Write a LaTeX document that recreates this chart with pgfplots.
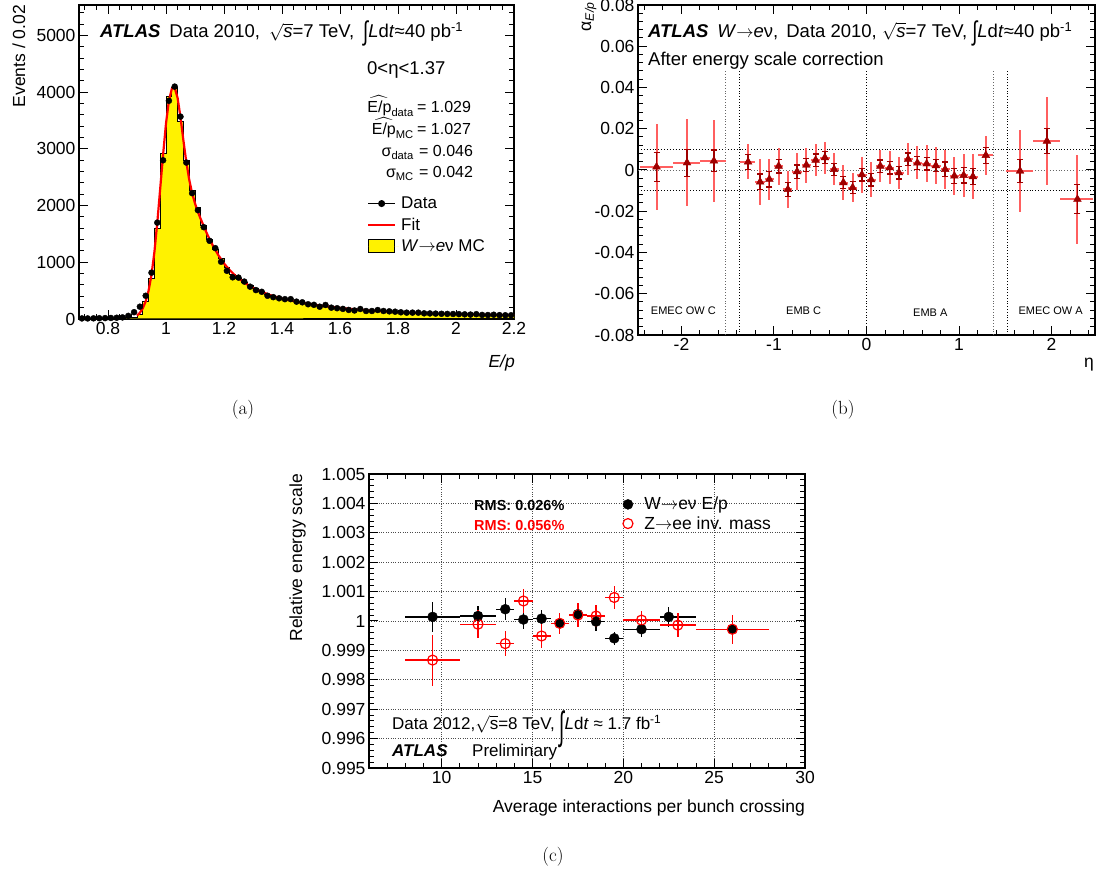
\documentclass[border=0pt]{standalone}
\usepackage{amsmath}
\usepackage{fontspec}
\newfontfamily\hv{Liberation Sans}
\usepackage{pgfplots}
\usepackage{pgfplotstable}
\pgfplotsset{compat=1.18}

\definecolor{dred}{RGB}{160,0,0}
\definecolor{lred}{RGB}{255,95,95}
\newcommand\F[1]{\hv\fontsize{#1}{#1}\selectfont}
\newcommand\Int{\raisebox{-3pt}{\scalebox{1}[1.45]{∫}}}
\newcommand\ar{$\rightarrow$}

\pgfplotsset{rootstyle/.style={
  scale only axis,
  axis line style={line width=1.3pt},
  tick align=inside,
  tick pos=both,
  xticklabel pos=left, yticklabel pos=left,
  major tick length=9pt, minor tick length=5pt,
  every tick/.style={black, line width=1pt},
  tick label style={font=\F{17.5}},
  /pgf/number format/assume math mode=true,
  /pgf/number format/1000 sep={},
  scaled ticks=false,
}}
\pgfplotsset{
  legdata/.style={legend image code/.code={\draw[##1, mark repeat=2, mark phase=2] plot coordinates {(0pt,0pt)(13.5pt,0pt)(27pt,0pt)}; \path[draw=none] (0pt,0pt) -- (31pt,0pt);}},
  legline/.style={legend image code/.code={\draw[##1] (0pt,0pt) -- (27pt,0pt); \path[draw=none] (0pt,0pt) -- (31pt,0pt);}},
  legbox/.style={legend image code/.code={\draw[##1] (0pt,-6pt) rectangle (26pt,7pt); \path[draw=none] (0pt,0pt) -- (31pt,0pt);}},
  legmark/.style={legend image code/.code={\draw[##1] plot coordinates {(5.5pt,0pt)}; \path[draw=none] (0pt,0pt) -- (20pt,0pt);}},
}

% E/p histogram: bin low edge, bin centre, data, MC
\pgfplotstableread{
lo c dat mc
0.70 0.71 10 0
0.72 0.73 10 0
0.74 0.75 12 0
0.76 0.77 14 0
0.78 0.79 16 0
0.80 0.81 18 0
0.82 0.83 22 0
0.84 0.85 28 10
0.86 0.87 55 25
0.88 0.89 120 35
0.90 0.91 217 75
0.92 0.93 410 310
0.94 0.95 817 720
0.96 0.97 1700 1600
0.98 0.99 2800 2920
1.00 1.01 3850 3930
1.02 1.03 4100 4090
1.04 1.05 3570 3480
1.06 1.07 2760 2800
1.08 1.09 2220 2270
1.10 1.11 1920 1960
1.12 1.13 1620 1650
1.14 1.15 1380 1410
1.16 1.17 1250 1230
1.18 1.19 1010 1060
1.20 1.21 850 900
1.22 1.23 735 790
1.24 1.25 730 720
1.26 1.27 660 650
1.28 1.29 570 590
1.30 1.31 510 540
1.32 1.33 480 490
1.34 1.35 410 440
1.36 1.37 385 400
1.38 1.39 365 370
1.40 1.41 350 345
1.42 1.43 350 325
1.44 1.45 306 305
1.46 1.47 294 285
1.48 1.49 260 268
1.50 1.51 250 250
1.52 1.53 217 238
1.54 1.55 247 225
1.56 1.57 200 212
1.58 1.59 190 200
1.60 1.61 178 190
1.62 1.63 160 180
1.64 1.65 150 170
1.66 1.67 176 160
1.68 1.69 141 152
1.70 1.71 141 145
1.72 1.73 158 140
1.74 1.75 141 134
1.76 1.77 135 128
1.78 1.79 129 122
1.80 1.81 118 117
1.82 1.83 112 112
1.84 1.85 112 108
1.86 1.87 112 104
1.88 1.89 100 100
1.90 1.91 98 96
1.92 1.93 95 93
1.94 1.95 92 90
1.96 1.97 90 87
1.98 1.99 88 85
2.00 2.01 86 83
2.02 2.03 82 80
2.04 2.05 78 78
2.06 2.07 85 76
2.08 2.09 72 74
2.10 2.11 70 72
2.12 2.13 75 70
2.14 2.15 68 68
2.16 2.17 66 66
2.18 2.19 66 64
2.20 2.21 nan 64
}\tabA

% alpha vs eta: x, x err minus/plus, value, stat, total
\pgfplotstableread{
x exm exp y stat tot
-2.27 0.18 0.18 0.0015 0.0070 0.0210
-1.94 0.15 0.14 0.0035 0.0065 0.0210
-1.65 0.15 0.13 0.0044 0.0053 0.0200
-1.28 0.09 0.08 0.0039 0.0037 0.0085
-1.15 0.05 0.05 -0.0058 0.0038 0.0110
-1.05 0.05 0.05 -0.0045 0.0037 0.0100
-0.95 0.05 0.05 0.0019 0.0033 0.0090
-0.85 0.05 0.05 -0.0094 0.0033 0.0088
-0.75 0.05 0.05 -0.0008 0.0032 0.0088
-0.65 0.05 0.05 0.0024 0.0030 0.0085
-0.55 0.05 0.05 0.0048 0.0030 0.0078
-0.45 0.05 0.05 0.0060 0.0028 0.0078
-0.35 0.05 0.05 0.0003 0.0030 0.0078
-0.25 0.05 0.05 -0.0061 0.0030 0.0085
-0.15 0.05 0.05 -0.0085 0.0030 0.0072
-0.05 0.05 0.05 -0.0023 0.0030 0.0087
0.05 0.05 0.05 -0.0047 0.0030 0.0085
0.15 0.05 0.05 0.0019 0.0030 0.0078
0.25 0.05 0.05 0.0011 0.0030 0.0080
0.35 0.05 0.05 -0.0013 0.0030 0.0077
0.45 0.05 0.05 0.0052 0.0030 0.0077
0.55 0.05 0.05 0.0034 0.0030 0.0080
0.65 0.05 0.05 0.0030 0.0030 0.0090
0.75 0.05 0.05 0.0021 0.0030 0.0090
0.85 0.05 0.05 0.0003 0.0035 0.0095
0.95 0.05 0.05 -0.0029 0.0035 0.0093
1.05 0.05 0.05 -0.0026 0.0037 0.0105
1.15 0.05 0.05 -0.0032 0.0038 0.0108
1.29 0.09 0.08 0.0071 0.0038 0.0095
1.66 0.15 0.14 -0.0005 0.0055 0.0200
1.95 0.15 0.14 0.0140 0.0060 0.0215
2.28 0.19 0.17 -0.0142 0.0070 0.0215
}\tabB

% energy scale vs mu
\pgfplotstableread{
x exm exp y ey
9.5 1.5 1.5 1.00014 0.00050
12.0 1.0 1.0 1.00017 0.00034
13.5 0.5 0.5 1.00040 0.00038
14.5 0.5 0.5 1.00005 0.00032
15.5 0.5 0.5 1.00008 0.00028
16.5 0.5 0.5 0.99992 0.00030
17.5 0.5 0.5 1.00023 0.00030
18.5 0.5 0.5 0.99998 0.00033
19.5 0.5 0.5 0.99941 0.00023
21.0 1.0 1.0 0.99972 0.00028
22.5 0.5 1.5 1.00014 0.00035
26.0 2.0 2.0 0.99972 0.00030
}\tabW
\pgfplotstableread{
x exm exp y ey
9.5 1.5 1.5 0.99867 0.00087
12.0 1.0 1.0 0.99989 0.00048
13.5 0.5 0.5 0.99923 0.00043
14.5 0.5 0.5 1.00068 0.00040
15.5 0.5 0.5 0.99949 0.00040
16.5 0.5 0.5 0.99992 0.00035
17.5 0.5 0.5 1.00020 0.00042
18.5 0.5 0.5 1.00017 0.00038
19.5 0.5 0.5 1.00080 0.00039
21.0 1.0 1.0 1.00003 0.00031
23.0 1.0 1.0 0.99986 0.00042
26.0 2.0 2.0 0.99972 0.00050
}\tabZ

\begin{document}
\begin{tikzpicture}
\useasboundingbox (0pt,0pt) rectangle (1096pt,874pt);

% ---------------- (a)
\begin{axis}[rootstyle, at={(79pt,555pt)}, anchor=south west,
  width=435pt, height=314pt,
  xmin=0.7, xmax=2.2, ymin=0, ymax=5540,
  xtick={0.8,1,1.2,1.4,1.6,1.8,2,2.2},
  xticklabels={0.8,1,1.2,1.4,1.6,1.8,2,2.2},
  minor xtick={0.72,0.76,...,2.2},
  ytick={0,1000,2000,3000,4000,5000},
  yticklabels={0,1000,2000,3000,4000,5000},
  minor ytick={200,400,...,5400},
  legend cell align=left,
  legend style={draw=none, fill=none, font=\F{17}, at={(0.655,0.402)}, anchor=north west, row sep=4pt},
]
\addplot[forget plot, const plot mark left, fill=yellow, draw=black, line width=1pt]
  table[x=lo, y=mc]{\tabA} \closedcycle;
\addplot[forget plot, red, line width=2.2pt] coordinates {
(0.90,60)(0.91,110)(0.92,190)(0.93,310)(0.94,500)(0.95,780)(0.96,1180)(0.97,1700)
(0.98,2300)(0.99,2900)(1.00,3450)(1.01,3850)(1.02,4060)(1.03,4080)(1.04,3900)
(1.05,3560)(1.06,3150)(1.07,2770)(1.08,2460)(1.09,2220)(1.10,2040)(1.11,1890)
(1.12,1760)(1.13,1640)(1.14,1520)(1.15,1410)(1.16,1310)(1.18,1130)(1.20,980)
(1.22,860)(1.24,760)(1.26,680)(1.28,610)(1.30,550)(1.33,480)(1.36,420)(1.40,360)
(1.45,305)(1.50,260)(1.55,225)(1.60,195)(1.70,150)(1.80,120)(1.90,100)(2.00,86)
(2.10,75)(2.20,66)};
\addplot[forget plot, only marks, mark=*, mark size=3pt, black] table[x=c, y=dat]{\tabA};
\addlegendimage{black, line width=1pt, mark=*, mark size=3pt, legdata}
\addlegendentry{Data}
\addlegendimage{red, line width=2pt, legline}
\addlegendentry{Fit}
\addlegendimage{fill=yellow, draw=black, line width=1pt, legbox}
\addlegendentry{\textit{W}\ar\textit{e}ν MC}
\end{axis}

\node[anchor=base west, inner sep=0pt] at (100pt,836pt) {\F{18.5}\textbf{\textit{ATLAS}}\hspace{9pt}Data 2010,\hspace{9pt}$\sqrt{\text{\textit{s}}}$=7 TeV,\hspace{9pt}\Int\textit{L}d\textit{t}≈40 pb\textsuperscript{-1}};
\node[anchor=base west, inner sep=0pt] at (367pt,799pt) {\F{18.5}0<η<1.37};
\node[anchor=base east, inner sep=0pt] at (414pt,761pt) {\F{16}$\widehat{\text{E/p}}_{\text{data}}$};
\node[anchor=base west, inner sep=0pt] at (417pt,761pt) {\F{16}= 1.029};
\node[anchor=base east, inner sep=0pt] at (414pt,739pt) {\F{16}$\widehat{\text{E/p}}_{\text{MC}}$};
\node[anchor=base west, inner sep=0pt] at (417pt,739pt) {\F{16}= 1.027};
\node[anchor=base east, inner sep=0pt] at (414pt,717pt) {\F{16}$\text{σ}_{\text{data}}$};
\node[anchor=base west, inner sep=0pt] at (419pt,717pt) {\F{16}= 0.046};
\node[anchor=base east, inner sep=0pt] at (414pt,696pt) {\F{16}$\text{σ}_{\text{MC}}$\hspace{4pt}};
\node[anchor=base west, inner sep=0pt] at (419pt,696pt) {\F{16}= 0.042};
\node[rotate=90, anchor=base east, inner sep=0pt] at (25pt,869pt) {\F{17.5}Events / 0.02};
\node[anchor=base east, inner sep=0pt] at (515pt,506pt) {\F{17.5}\textit{E/p}};
\node at (243pt,464pt) {\fontsize{19}{22}\selectfont (a)};

% ---------------- (b)
\begin{axis}[rootstyle, at={(638pt,539pt)}, anchor=south west,
  width=457pt, height=330pt,
  xmin=-2.47, xmax=2.47, ymin=-0.08, ymax=0.08,
  xtick={-2,-1,0,1,2}, xticklabels={-2,-1,0,1,2},
  minor xtick={-2.4,-2.2,...,2.4},
  ytick={-0.08,-0.06,-0.04,-0.02,0,0.02,0.04,0.06,0.08},
  yticklabels={-0.08,-0.06,-0.04,-0.02,0,0.02,0.04,0.06,0.08},
  minor ytick={-0.076,-0.072,...,0.08},
]
\addplot[black, dotted, line width=0.9pt] coordinates {(-2.47,0.01)(2.47,0.01)};
\addplot[black!60, dotted, line width=0.9pt] coordinates {(-2.47,0)(2.47,0)};
\addplot[black, dotted, line width=0.9pt] coordinates {(-2.47,-0.01)(2.47,-0.01)};
\addplot[black!60, dotted, line width=0.8pt] coordinates {(-1.52,-0.08)(-1.52,0.048)};
\addplot[black, dotted, line width=0.8pt] coordinates {(-1.37,-0.08)(-1.37,0.048)};
\addplot[black, dotted, line width=0.8pt] coordinates {(0,-0.08)(0,0.048)};
\addplot[black!60, dotted, line width=0.8pt] coordinates {(1.37,-0.08)(1.37,0.048)};
\addplot[black, dotted, line width=0.8pt] coordinates {(1.52,-0.08)(1.52,0.048)};
\addplot[only marks, mark=none,
  error bars/.cd, x dir=both, x explicit, y dir=both, y explicit,
  error mark=none, error bar style={lred, line width=2pt}]
  table[x=x, y=y, x error minus=exm, x error plus=exp, y error=tot]{\tabB};
\addplot[only marks, mark=triangle*, mark size=4.5pt, dred,
  error bars/.cd, y dir=both, y explicit,
  error bar style={dred, line width=1.3pt},
  error mark options={dred, mark size=3pt, line width=1.3pt, rotate=90}]
  table[x=x, y=y, y error=stat]{\tabB};
\node[font=\F{11}] at (axis cs:-1.98,-0.0684) {EMEC OW C};
\node[font=\F{11}] at (axis cs:-0.68,-0.0684) {EMB C};
\node[font=\F{11}] at (axis cs:0.69,-0.0690) {EMB A};
\node[font=\F{11}] at (axis cs:1.99,-0.0684) {EMEC OW A};
\end{axis}

\node[anchor=base west, inner sep=0pt] at (648pt,836.5pt) {\F{18.5}\textbf{\textit{ATLAS}}\hspace{9pt}\textit{W}\ar\textit{e}ν,\hspace{8pt}Data 2010, $\sqrt{\text{\textit{s}}}$=7 TeV, \Int\textit{L}d\textit{t}≈40 pb\textsuperscript{-1}};
\node[anchor=base west, inner sep=0pt] at (648pt,808pt) {\F{18.5}After energy scale correction};
\node[rotate=90, anchor=base east, inner sep=0pt] at (591pt,872pt) {\F{17.5}α\textsubscript{\textit{E/p}}};
\node[anchor=base east, inner sep=0pt] at (1094pt,506pt) {\F{17.5}η};
\node at (843pt,464pt) {\fontsize{19}{22}\selectfont (b)};

% ---------------- (c)
\begin{axis}[rootstyle, at={(369pt,106pt)}, anchor=south west,
  width=436pt, height=294pt,
  xmin=6, xmax=30, ymin=0.995, ymax=1.005,
  xtick={10,15,20,25,30}, xticklabels={10,15,20,25,30},
  minor xtick={7,8,...,29},
  ytick={0.995,0.996,0.997,0.998,0.999,1,1.001,1.002,1.003,1.004,1.005},
  yticklabels={0.995,0.996,0.997,0.998,0.999,1,1.001,1.002,1.003,1.004,1.005},
  minor ytick={0.9952,0.9954,...,1.005},
  grid=major, grid style={black!70, dotted, line width=0.8pt},
  legend cell align=left,
  legend style={draw=none, fill=none, font=\F{17.5}, at={(0.574,0.935)}, anchor=north west, row sep=1pt},
]
\addplot[forget plot, only marks, mark=*, mark size=5pt, black,
  error bars/.cd, x dir=both, x explicit, y dir=both, y explicit,
  error mark=none, error bar style={black, line width=1.4pt}]
  table[x=x, y=y, x error minus=exm, x error plus=exp, y error=ey]{\tabW};
\addplot[forget plot, only marks, mark=o, mark size=5pt, red, mark options={fill=white, line width=1.2pt},
  error bars/.cd, x dir=both, x explicit, y dir=both, y explicit,
  error mark=none, error bar style={red, line width=1.4pt}]
  table[x=x, y=y, x error minus=exm, x error plus=exp, y error=ey]{\tabZ};
\addplot[forget plot, only marks, mark=*, mark size=3.8pt, black] table[x=x, y=y]{\tabW};
\addlegendimage{only marks, mark=*, mark size=5pt, black, legmark}
\addlegendentry{W\ar eν E/p}
\addlegendimage{only marks, mark=o, mark size=5pt, red, mark options={line width=1.2pt}, legmark}
\addlegendentry{Z\ar ee inv. mass}
\end{axis}

\node[anchor=base west, inner sep=0pt] at (474pt,363.5pt) {\hv\bfseries\fontsize{14.5}{15}\selectfont RMS: 0.026\%};
\node[anchor=base west, inner sep=0pt, text=red] at (474pt,343.5pt) {\hv\bfseries\fontsize{14.5}{15}\selectfont RMS: 0.056\%};
\node[anchor=base west, inner sep=0pt] at (392pt,144pt) {\F{17}Data 2012,$\sqrt{\text{s}}$=8 TeV, \raisebox{-10pt}{\scalebox{1.1}[2.3]{∫}}\textit{L}d\textit{t} ≈ 1.7 fb\textsuperscript{-1}};
\node[anchor=base west, inner sep=0pt] at (392pt,117pt) {\F{17}\textbf{\textit{ATLAS}}};
\node[anchor=base west, inner sep=0pt] at (472pt,117pt) {\F{17}Preliminary};
\node[rotate=90, anchor=base east, inner sep=0pt] at (302pt,400pt) {\F{17.5}Relative energy scale};
\node[anchor=base east, inner sep=0pt] at (805pt,61pt) {\F{17.5}Average interactions per bunch crossing};
\node at (553pt,17pt) {\fontsize{19}{22}\selectfont (c)};
\end{tikzpicture}
\end{document}
